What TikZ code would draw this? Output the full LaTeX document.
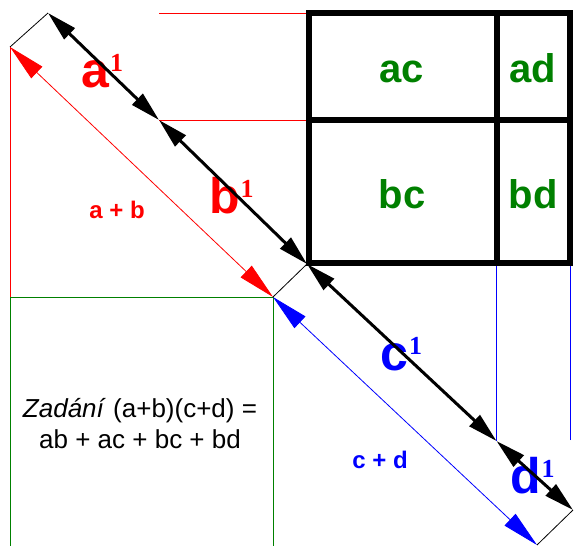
\documentclass[tikz,border=0pt]{standalone}
\usepackage{fontspec}
\setmainfont{Liberation Sans}
\newfontfamily\supfont{Liberation Serif}
\usetikzlibrary{arrows.meta}
\definecolor{cred}{HTML}{FF0000}
\definecolor{cblue}{HTML}{0000FF}
\definecolor{cgreen}{HTML}{008000}
\newcommand{\exone}{\kern1pt\raisebox{16pt}{\supfont\fontsize{26}{26}\selectfont 1}}
\tikzset{
  span/.style={{Triangle[length=30pt, width=15pt]}-{Triangle[length=30pt, width=15pt]}, line width=3pt},
  dimline/.style={{Triangle[length=37pt, width=16pt]}-{Triangle[length=37pt, width=16pt]}, draw=#1, line width=0.8pt},
  guide/.style={draw=#1, line width=0.8pt},
  tick/.style={draw=black, line width=0.8pt},
  tablerule/.style={draw=black, line width=6pt},
  part/.style={text=#1, font=\fontsize{50}{50}\selectfont\bfseries, inner sep=0pt, anchor=base west},
  prod/.style={text=cgreen, font=\fontsize{40}{40}\selectfont\bfseries, inner sep=0pt, anchor=base},
  total/.style={text=#1, font=\fontsize{24}{24}\selectfont\bfseries, inner sep=0pt, anchor=base},
}
\begin{document}
\begin{tikzpicture}[x=1pt, y=-1pt]
  \useasboundingbox (0,0) rectangle (574,546);

  % ---- points on the diagonal
  \coordinate (p0) at (48,13);
  \coordinate (p1) at (159,120);
  \coordinate (p2) at (307,264);
  \coordinate (p3) at (496.5,441);
  \coordinate (p4) at (573,510);
  % ---- ends of the two sums
  \coordinate (q0) at (10,47);
  \coordinate (q1) at (273,297);
  \coordinate (q2) at (537,545);
  % ---- the table
  \coordinate (g0) at (309,12.5);
  \coordinate (g1) at (570,262.5);

  % thin guides
  \draw[guide=cred] (p1 |- p0) -- (p2 |- p0);
  \draw[guide=cred] (p1) -- (p1 -| p2);
  \draw[guide=cred] (q0) -- (q0 |- q1);
  \draw[guide=cgreen] (10,546) -- (q0 |- q1) -- (q1) -- (273,546);
  \draw[guide=cblue] (p3) -- (p3 |- g1);
  \draw[guide=cblue] (570,440) -- (g1);
  \draw[tick] (p0) -- (q0);
  \draw[tick] (p2) -- (q1);
  \draw[tick] (p4) -- (q2);

  % ---- labels
  \node[part=cred]  (la) at (81,87)   {a\exone};
  \node[part=cred]  (lb) at (209,213) {b\exone};
  \node[part=cblue] (lc) at (380,370) {c\exone};
  \node[part=cblue] (ld) at (510,493) {d\exone};
  \node[total=cred]  (ab) at (117,218) {a + b};
  \node[total=cblue] (cd) at (380,468) {c + d};
  \node[align=center, font=\fontsize{26}{31}\selectfont, inner sep=0pt, anchor=base] (task) at (140,448)
    {\textit{Zadání} (a+b)(c+d) =\\ab + ac + bc + bd};

  \node[prod] (ac) at (402,82)  {ac};
  \node[prod] (ad) at (533,82)  {ad};
  \node[prod] (bc) at (402,208) {bc};
  \node[prod] (bd) at (533,208) {bd};

  % ---- arrows
  \draw[dimline=cred]  (q0) -- (q1);
  \draw[dimline=cblue] (q1) -- (q2);
  \draw[span] (p0) -- (p1);
  \draw[span] (p1) -- (p2);
  \draw[span] (p2) -- (p3);
  \draw[span] (p3) -- (p4);

  % table
  \draw[tablerule] (g0) rectangle (g1);
  \draw[tablerule] (g0 |- p1) -- (g1 |- p1);
  \draw[tablerule] (p3 |- g0) -- (p3 |- g1);
\end{tikzpicture}
\end{document}
